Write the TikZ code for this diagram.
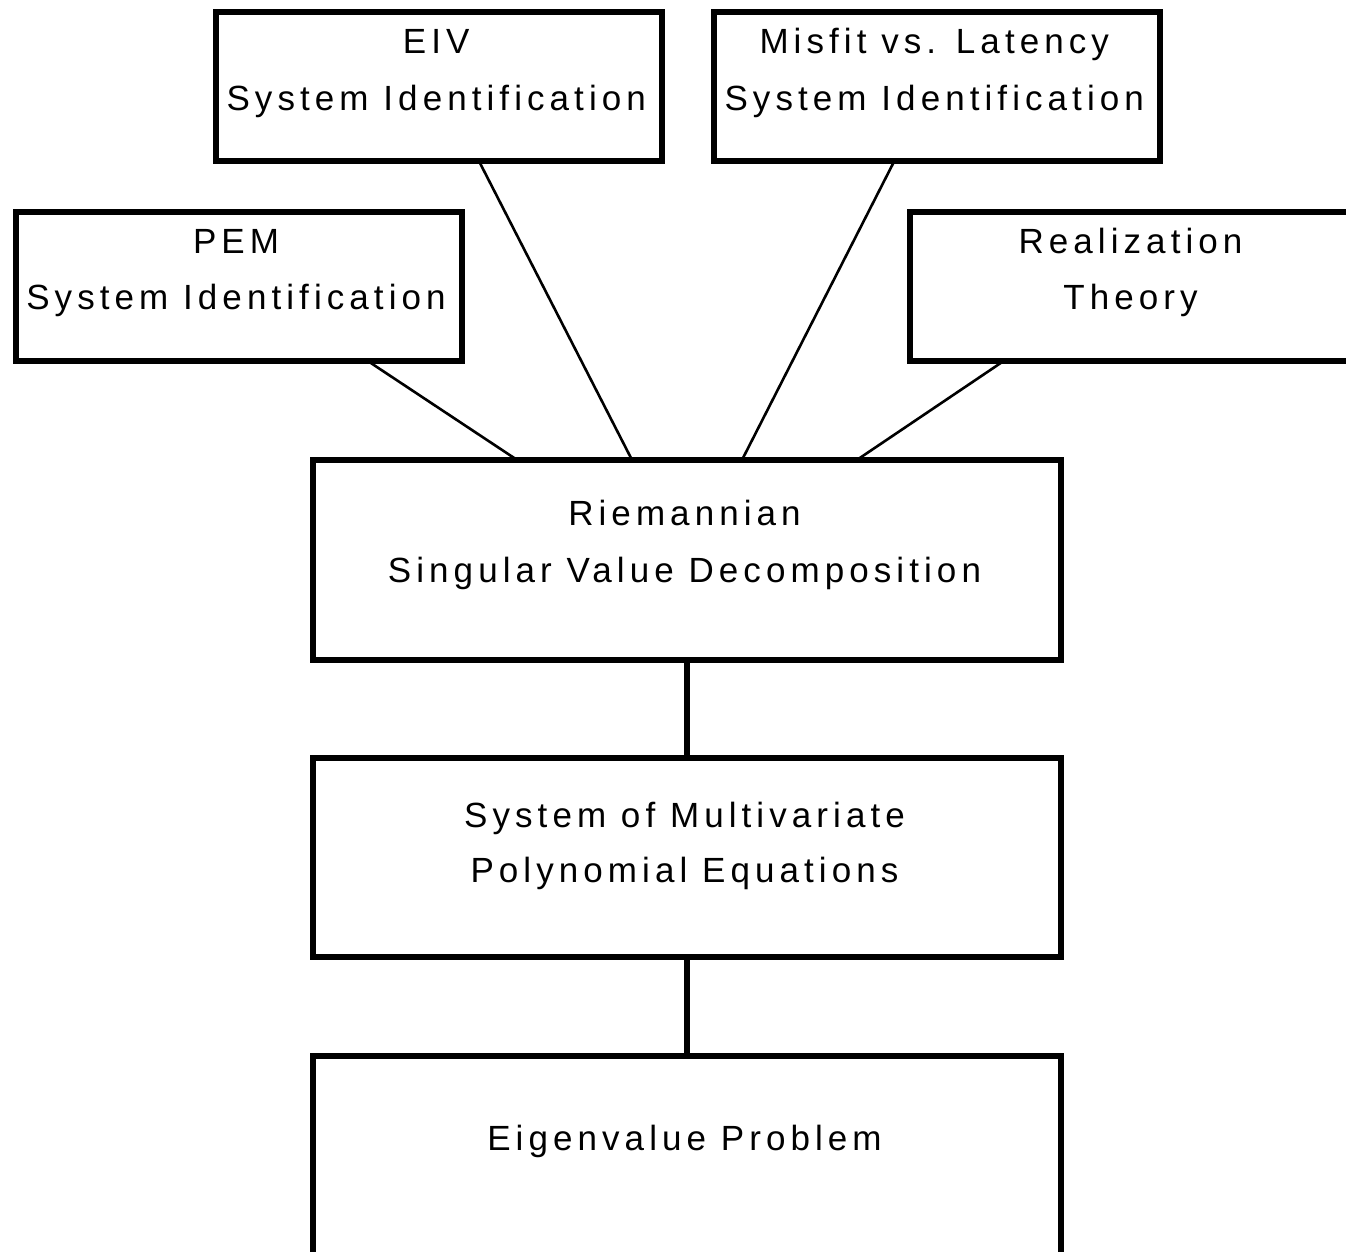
\documentclass[tikz,border=0pt]{standalone}
\usepackage{fontspec}
\setmainfont{Liberation Sans}[LetterSpace=14.5]
\usetikzlibrary{calc}
\begin{document}
\begin{tikzpicture}[x=1pt,y=-1pt,
  box/.style={draw, line width=6pt, rectangle, outer sep=0pt, inner sep=0pt},
  lbl/.style={anchor=base, inner sep=0pt, xshift=-2.5pt, font=\fontsize{35}{40}\selectfont},
  diag/.style={line width=2.6pt},
  vert/.style={line width=6pt}]
\useasboundingbox (0,0) rectangle (1346,1251);
\clip (0,0) rectangle (1346,1251);
% boxes
\node[box, minimum width=446.5pt, minimum height=149pt] (eiv) at (438.75,86.5) {};
\node[box, minimum width=446.5pt, minimum height=149pt] (misfit) at (936.75,86.5) {};
\node[box, minimum width=446pt, minimum height=149pt] (pem) at (238.5,286.5) {};
\node[box, minimum width=446pt, minimum height=149pt] (real) at (1133,286.5) {};
\node[box, minimum width=748pt, minimum height=199.5pt] (riem) at (687,559.75) {};
\node[box, minimum width=748pt, minimum height=199.5pt] (multi) at (687,857.25) {};
\node[box, minimum width=748pt, minimum height=199.5pt] (eigen) at (687,1155.25) {};
% labels
\node[lbl] (eivA) at (438.75,53) {EIV};
\node[lbl] (eivB) at (438.75,110) {System Identification};
\node[lbl] (misA) at (936.75,53) {Misfit vs. Latency};
\node[lbl] (misB) at (936.75,110) {System Identification};
\node[lbl] (pemA) at (238.5,253) {PEM};
\node[lbl] (pemB) at (238.5,309) {System Identification};
\node[lbl] (realA) at (1133,253) {Realization};
\node[lbl] (realB) at (1133,309) {Theory};
\node[lbl] (riemA) at (687,525) {Riemannian};
\node[lbl] (riemB) at (687,582) {Singular Value Decomposition};
\node[lbl] (multiA) at (687,827) {System of Multivariate};
\node[lbl] (multiB) at (687,882) {Polynomial Equations};
\node[lbl] (eigenA) at (687,1150) {Eigenvalue Problem};
% connectors
\draw[diag] ($(pem.south west)!0.79!(pem.south east)$) -- ($(riem.north west)!0.273!(riem.north east)$);
\draw[diag] ($(eiv.south west)!0.59!(eiv.south east)$) -- ($(riem.north west)!0.4265!(riem.north east)$);
\draw[diag] ($(misfit.south west)!0.405!(misfit.south east)$) -- ($(riem.north west)!0.5735!(riem.north east)$);
\draw[diag] ($(real.south west)!0.21!(real.south east)$) -- ($(riem.north west)!0.727!(riem.north east)$);
\draw[vert] (riem.south) -- (multi.north);
\draw[vert] (multi.south) -- (eigen.north);
\end{tikzpicture}
\end{document}
